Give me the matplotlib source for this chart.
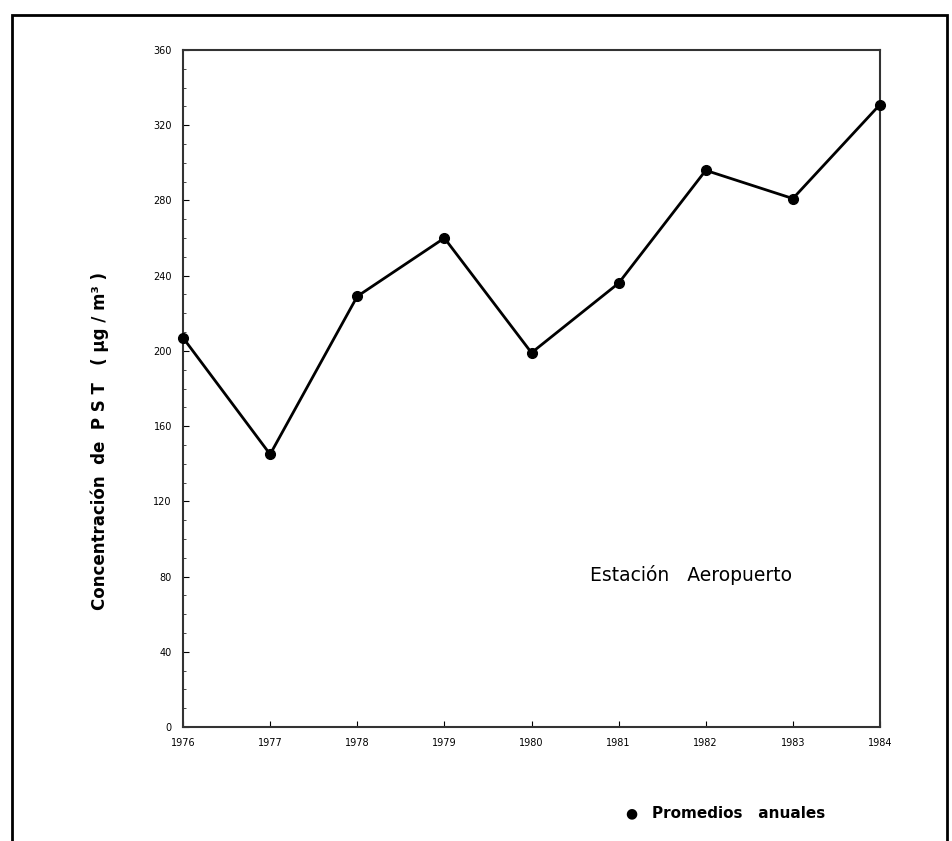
import matplotlib.pyplot as plt
from matplotlib.patches import Rectangle

years = [1976, 1977, 1978, 1979, 1980, 1981, 1982, 1983, 1984]
pst = [207, 145, 229, 260, 199, 236, 296, 281, 331]
yticks = [0, 40, 80, 120, 160, 200, 240, 280, 320, 360]

fig = plt.figure(figsize=(9.52, 8.41), dpi=100)
W, H = 952, 841
ax = fig.add_axes([183 / W, 1 - 727 / H, (880 - 183) / W, (727 - 50) / H])

ax.plot(years, pst, color='black', lw=2, marker='o', ms=7, zorder=3, clip_on=False)

ax.set_xlim(1976, 1984)
ax.set_ylim(0, 360)
ax.set_xticks(years)
ax.set_yticks(yticks)
ax.tick_params(direction='in', length=4, width=0.8, labelsize=7, pad=8)
ax.set_yticks(range(0, 361, 10), minor=True)
ax.tick_params(which='minor', direction='in', length=2, width=0.5)
for s in ax.spines.values():
    s.set_linewidth(1.5)
    s.set_color('#333333')

# y label sits a bit below the axes centre in the original
fig.text(100 / W, 1 - 441 / H, 'Concentración  de  P S T   ( µg / m³ )',
         rotation=90, fontsize=12, fontweight='bold', ha='center', va='center')
ax.text(590 / W, 1 - 575 / H, 'Estación   Aeropuerto', transform=fig.transFigure,
        fontsize=13.5, va='center')

fig.text(631 / W, 1 - 813 / H, '●', fontsize=10, ha='center', va='center')
fig.text(652 / W, 1 - 813 / H, 'Promedios   anuales', fontsize=11, fontweight='bold', va='center')

fig.patches.append(Rectangle((12 / W, -0.05), (947 - 12) / W, 1.05 - 15 / H,
                             transform=fig.transFigure, fill=False, lw=2, ec='black'))

fig.savefig('out.png', dpi=100)
